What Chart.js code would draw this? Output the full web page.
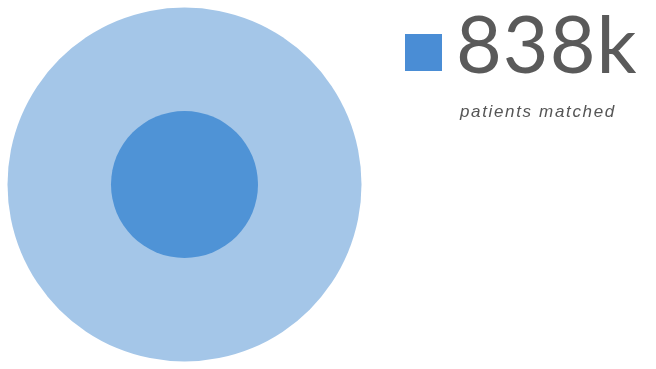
<!DOCTYPE html>
<html>
<head>
<meta charset="utf-8">
<script src="https://cdn.jsdelivr.net/npm/chart.js@4.4.1/dist/chart.umd.min.js"></script>
<style>
  html, body { margin: 0; padding: 0; background: #fff; }
  #wrap { position: relative; width: 656px; height: 369px; overflow: hidden; }
  #myChart { position: absolute; left: 0; top: 0; }
  .swatch { position: absolute; left: 405px; top: 34px; width: 37px; height: 37px; background: #4a8dd5; }
  .big { position: absolute; left: 456px; top: 4px; font-family: Lato, sans-serif; font-size: 79px; line-height: 78px; letter-spacing: 1px; color: #5a5a5a; }
  .sub { position: absolute; left: 460px; top: 103px; font-family: "Liberation Sans", Arial, sans-serif; font-style: italic; font-size: 17px; line-height: 17px; letter-spacing: 1.65px; color: #555; white-space: nowrap; }
</style>
</head>
<body>
<div id="wrap">
  <canvas id="myChart" width="656" height="369"></canvas>
  <div class="swatch"></div>
  <div class="big" id="bigValue"></div>
  <div class="sub" id="subLabel"></div>
</div>
<script>
// values in thousands of patients
const groups = ["patients matched", "all patients"];
const values = [838, 4860];
const colors = ["#4f93d6", "#a4c6e8"];

const maxRadius = 177;
const maxValue = Math.max(...values);

document.getElementById("bigValue").textContent = values[0] + "k";
document.getElementById("subLabel").textContent = groups[0];

// dataset 0 is drawn last, so the small bubble sits on top
const datasets = groups.map((g, i) => ({
  label: g,
  data: [{ x: 0, y: 0, v: values[i] }],
  backgroundColor: colors[i],
  borderWidth: 0,
  hoverBorderWidth: 0,
  radius: (ctx) => maxRadius * Math.sqrt(ctx.raw.v / maxValue),
  hoverRadius: 0,
  clip: false,
}));

const config = {
  type: "bubble",
  data: { datasets: datasets },
  options: {
    responsive: false,
    animation: false,
    events: [],
    layout: {
      autoPadding: false,
      padding: { left: 0, right: 287, top: 0, bottom: 0 },
    },
    scales: {
      x: { display: false, min: -1, max: 1 },
      y: { display: false, min: -1, max: 1 },
    },
    plugins: {
      legend: { display: false },
      tooltip: { enabled: false },
    },
  },
};

new Chart(document.getElementById("myChart"), config);
</script>
</body>
</html>
